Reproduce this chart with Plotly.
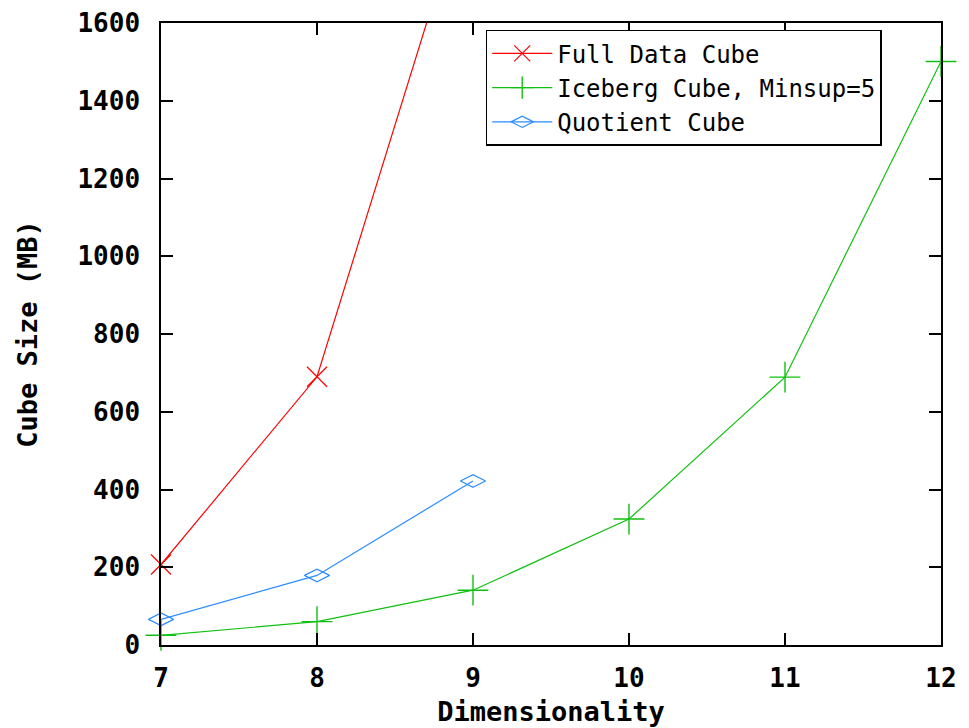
import plotly.graph_objects as go

dims = [7, 8, 9, 10, 11, 12]
full_x = [7, 8, 9]
full_y = [207, 690, 1985]
ice_x = [7, 8, 9, 10, 11, 12]
ice_y = [25, 60, 141, 324, 689, 1501]
quo_x = [7, 8, 9]
quo_y = [66, 179, 422]
y_ticks = [0, 200, 400, 600, 800, 1000, 1200, 1400, 1600]

FONT = "DejaVu Sans Mono"

fig = go.Figure()
fig.add_trace(go.Scatter(x=full_x, y=full_y, name="Full Data Cube", mode="lines+markers",
                         line=dict(color="#ff0000", width=1.2),
                         marker=dict(symbol="x-thin-open", size=20, line=dict(color="#ff0000", width=1.2)),
                         cliponaxis=False))
fig.add_trace(go.Scatter(x=ice_x, y=ice_y, name="Iceberg Cube, Minsup=5", mode="lines+markers",
                         line=dict(color="#10c010", width=1.2),
                         marker=dict(symbol="cross-thin-open", size=22, line=dict(color="#10c010", width=1.4)),
                         cliponaxis=False))
fig.add_trace(go.Scatter(x=quo_x, y=quo_y, name="Quotient Cube", mode="lines+markers",
                         line=dict(color="#2a8cff", width=1.2),
                         marker=dict(symbol="diamond-wide-open", size=18, line=dict(color="#2a8cff", width=1.2)),
                         cliponaxis=False))

tickfont = dict(family=FONT, size=26, color="black", weight="bold")
axis_common = dict(showline=True, linecolor="black", linewidth=1.5, mirror="ticks",
                   ticks="inside", ticklen=12, tickwidth=1.5, tickcolor="black",
                   showgrid=False, zeroline=False, automargin=False,
                   ticklabeloverflow="allow", tickfont=tickfont)

fig.update_xaxes(range=[7, 12], tickvals=dims, ticktext=[str(d) for d in dims],
                 ticklabelstandoff=9,
                 title=dict(text="<b>Dimensionality</b>", font=dict(family=FONT, size=27, color="black"), standoff=10),
                 **axis_common)
fig.update_yaxes(range=[0, 1600], tickvals=y_ticks, ticktext=[str(v) for v in y_ticks],
                 ticklabelstandoff=14,
                 title=dict(text="<b>Cube Size (MB)</b>", font=dict(family=FONT, size=27, color="black"), standoff=32),
                 **axis_common)

fig.update_layout(
    width=961, height=720,
    margin=dict(l=153, r=28, t=15, b=83, pad=0),
    plot_bgcolor="white", paper_bgcolor="white",
    font=dict(family=FONT, size=24, color="black"),
    legend=dict(x=0.924, y=0.989, xanchor="right", yanchor="top",
                bordercolor="black", borderwidth=1.5, bgcolor="white",
                font=dict(family=FONT, size=24, color="black"),
                tracegroupgap=0, itemwidth=60),
    showlegend=True,
)

fig.write_html("out.html")
